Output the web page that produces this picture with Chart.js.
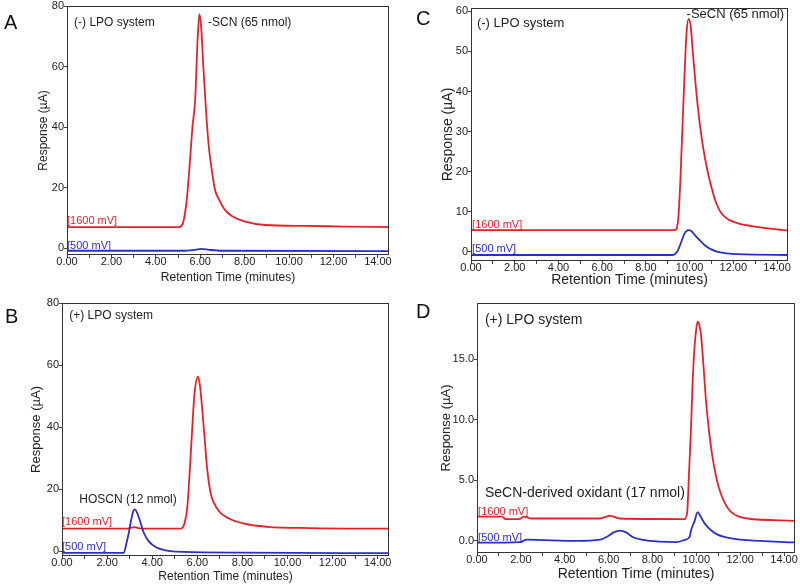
<!DOCTYPE html>
<html>
<head>
<meta charset="utf-8">
<script src="https://cdn.jsdelivr.net/npm/chart.js@4.4.1/dist/chart.umd.min.js"></script>
<style>
  html, body { margin: 0; padding: 0; background: #fff; }
  #wrap { position: relative; width: 800px; height: 585px; overflow: hidden; font-family: "Liberation Sans", Arial, sans-serif; }
  .panel { position: absolute; }
  .panel canvas { display: block; }
  .letter { position: absolute; font-size: 20px; line-height: 1; color: #111; }
</style>
</head>
<body>
<div id="wrap">
  <div class="panel" style="left:0;top:0;width:400px;height:290px"><canvas id="chA" width="400" height="290"></canvas></div>
  <div class="panel" style="left:0;top:290px;width:400px;height:295px"><canvas id="chB" width="400" height="295"></canvas></div>
  <div class="panel" style="left:400px;top:0;width:400px;height:290px"><canvas id="chC" width="400" height="290"></canvas></div>
  <div class="panel" style="left:400px;top:290px;width:400px;height:295px"><canvas id="chD" width="400" height="295"></canvas></div>
  <div class="letter" style="left:4px;top:12px">A</div>
  <div class="letter" style="left:5px;top:306px">B</div>
  <div class="letter" style="left:416px;top:8px">C</div>
  <div class="letter" style="left:416px;top:301px">D</div>
</div>
<script>
'use strict';

// A: (-) LPO, SCN
var redA_t = [0, 3, 5.0, 5.09, 5.24, 5.39, 5.54, 5.65, 5.77, 5.88, 5.96, 6.04, 6.14, 6.25, 6.37, 6.52, 6.67, 6.82, 7.12, 7.42, 8.02, 8.92, 10.72, 12.5, 14.5];
var redA_v = [7.0, 7.0, 7.0, 7.1, 8.8, 15.9, 29.1, 40.1, 48.9, 68.7, 77.3, 73.1, 59.9, 46.7, 34.7, 25.8, 19.2, 16.5, 12.6, 10.7, 8.8, 7.7, 7.4, 7.2, 7.0];
var blueA_t = [0, 5.3, 5.8, 6.05, 6.4, 7.0, 14.5];
var blueA_v = [-0.8, -0.8, -0.4, -0.2, -0.5, -0.8, -0.9];

// B: (+) LPO, SCN
var redB_t = [0, 2.9, 3.2, 3.5, 5.0, 5.26, 5.44, 5.56, 5.67, 5.78, 5.88, 6.03, 6.12, 6.22, 6.34, 6.44, 6.59, 6.74, 6.96, 7.33, 8.07, 9.11, 11, 14.5];
var redB_v = [7.3, 7.3, 7.8, 7.3, 7.3, 7.3, 9.2, 14.5, 26.4, 40.3, 51.1, 56.3, 53.2, 45.7, 35, 26.4, 18.8, 15.6, 12.9, 10.8, 8.9, 7.9, 7.5, 7.3];
var blueB_t = [0, 2.0, 2.74, 2.86, 2.96, 3.07, 3.16, 3.23, 3.33, 3.45, 3.63, 3.85, 4.15, 4.59, 5.40, 8, 14.5];
var blueB_v = [-0.5, -0.5, -0.5, 2.7, 5.9, 10.2, 12.9, 13.5, 12.4, 10, 5.9, 3.2, 1.4, 0.3, -0.2, -0.4, -0.6];

// C: (-) LPO, SeCN
var redC_t = [0, 5, 9.3, 9.39, 9.50, 9.59, 9.69, 9.77, 9.86, 9.95, 10.05, 10.15, 10.31, 10.46, 10.61, 10.81, 10.99, 11.22, 11.45, 11.83, 12.21, 12.97, 14.5];
var redC_v = [5.4, 5.4, 5.4, 5.6, 9.6, 19.6, 33.8, 44.6, 54.6, 58.1, 56.3, 49.6, 39.6, 32.1, 26.3, 20.4, 16.3, 12.1, 9.6, 7.9, 7.1, 6.3, 5.3];
var blueC_t = [0, 5, 9.2, 9.32, 9.47, 9.62, 9.77, 9.95, 10.08, 10.23, 10.46, 10.68, 10.99, 11.29, 12.21, 14.5];
var blueC_v = [-0.8, -0.8, -0.8, -0.6, 0.4, 2.5, 4.6, 5.4, 5.2, 4.2, 2.9, 1.7, 0.6, 0, -0.6, -0.8];

// D: (+) LPO, SeCN
var redD_t = [0, 1.15, 1.3, 1.9, 2.15, 2.5, 5.6, 6.06, 6.5, 9.45, 9.58, 9.68, 9.76, 9.83, 9.91, 9.99, 10.06, 10.14, 10.21, 10.33, 10.44, 10.59, 10.74, 10.94, 11.12, 11.35, 11.58, 11.95, 12.33, 14.5];
var redD_v = [2.0, 2.0, 1.8, 1.8, 2.0, 1.85, 1.85, 2.07, 1.85, 1.8, 2.3, 6.1, 9.4, 13.0, 15.8, 17.4, 18.1, 17.8, 17.1, 14.4, 11.6, 8.9, 6.9, 5.0, 3.9, 2.95, 2.4, 2.0, 1.85, 1.65];
var blueD_t = [0, 1.97, 2.27, 4.55, 5.6, 5.98, 6.21, 6.52, 6.82, 7.12, 7.58, 8.33, 9.09, 9.47, 9.7, 9.76, 9.91, 10.06, 10.17, 10.29, 10.44, 10.67, 10.97, 11.27, 11.73, 12.33, 14.5];
var blueD_v = [-0.15, -0.1, 0.1, 0.0, 0.1, 0.4, 0.68, 0.85, 0.68, 0.3, 0.08, -0.06, -0.1, 0.08, 0.36, 0.88, 1.57, 2.37, 2.1, 1.71, 1.3, 0.88, 0.52, 0.33, 0.17, 0.06, -0.13];

/* ---------- wygląd ---------- */

var RED = '#e62229';
var BLUE = '#2a2fcc';
var INK = '#222';
var FONT = "'Liberation Sans', Arial, sans-serif";

Chart.defaults.font.family = FONT;
Chart.defaults.color = INK;

function toXY(ts, vs) {
  return ts.map(function (t, i) { return { x: t, y: vs[i] }; });
}

// ramka wykresu + napisy w polu wykresu
var ozdobyPlugin = {
  id: 'ozdoby',
  afterDraw: function (chart, args, opts) {
    var ctx = chart.ctx, a = chart.chartArea;
    var xs = chart.scales.x, ys = chart.scales.y;
    ctx.save();
    ctx.strokeStyle = '#333';
    ctx.lineWidth = 1;
    ctx.strokeRect(a.left + 0.5, a.top + 0.5, a.right - a.left - 1, a.bottom - a.top - 1);
    (opts.napisy || []).forEach(function (n) {
      ctx.font = n.size + 'px ' + FONT;
      ctx.fillStyle = n.color || INK;
      ctx.textAlign = 'left';
      ctx.textBaseline = 'middle';
      ctx.fillText(n.text, xs.getPixelForValue(n.x), ys.getPixelForValue(n.y));
    });
    ctx.restore();
  }
};

function rysujPanel(id, p) {
  var siatka = { drawOnChartArea: false, drawTicks: true, tickLength: 3, color: '#444' };
  return new Chart(document.getElementById(id), {
    type: 'line',
    data: {
      datasets: [
        { data: toXY(p.blueT, p.blueV), borderColor: BLUE, borderWidth: 1.8, pointRadius: 0, cubicInterpolationMode: 'monotone', fill: false },
        { data: toXY(p.redT, p.redV), borderColor: RED, borderWidth: 1.8, pointRadius: 0, cubicInterpolationMode: 'monotone', fill: false }
      ]
    },
    options: {
      responsive: false,
      animation: false,
      devicePixelRatio: 1,
      layout: { padding: p.pad },
      plugins: { legend: { display: false }, tooltip: { enabled: false }, ozdoby: { napisy: p.napisy } },
      scales: {
        x: {
          type: 'linear', min: 0, max: 14.5,
          ticks: {
            stepSize: 1, includeBounds: false, autoSkip: false, maxRotation: 0, padding: -3,
            font: { size: 11 }, color: INK,
            callback: function (v) { return v % 2 === 0 ? v.toFixed(2) : ''; }
          },
          grid: siatka,
          border: { display: false },
          title: { display: true, text: 'Retention Time (minutes)', font: { size: p.xTitle }, padding: 0, color: INK },
          afterFit: function (s) { s.height = p.xH; s.paddingLeft = 0; s.paddingRight = 0; }
        },
        y: {
          type: 'linear', min: p.yMin, max: p.yMax,
          ticks: {
            stepSize: p.yStep, includeBounds: false, padding: 0,
            font: { size: 11 }, color: INK,
            callback: function (v) { return p.yDec ? v.toFixed(p.yDec) : String(v); }
          },
          grid: siatka,
          border: { display: false },
          title: { display: true, text: 'Response (µA)', font: { size: p.yTitle }, padding: 0, color: INK },
          afterFit: function (s) { s.width = p.yW; s.paddingTop = 0; s.paddingBottom = 0; }
        }
      }
    },
    plugins: [ozdobyPlugin]
  });
}

rysujPanel('chA', {
  redT: redA_t, redV: redA_v, blueT: blueA_t, blueV: blueA_v,
  pad: { left: 36, top: 6, right: 11, bottom: 5 }, yW: 31, xH: 30,
  yMin: -2.2, yMax: 80, yStep: 20, yDec: 0, xTitle: 12, yTitle: 12,
  napisy: [
    { text: '(-) LPO system', x: 0.32, y: 74.4, size: 12 },
    { text: '-SCN (65 nmol)', x: 6.35, y: 74.4, size: 12 },
    { text: '[1600 mV]', x: 0, y: 9.0, size: 11, color: RED },
    { text: '[500 mV]', x: 0, y: 0.9, size: 11, color: BLUE }
  ]
});

rysujPanel('chB', {
  redT: redB_t, redV: redB_v, blueT: blueB_t, blueV: blueB_v,
  pad: { left: 29, top: 13, right: 11, bottom: 1 }, yW: 33, xH: 28,
  yMin: -1.5, yMax: 80, yStep: 20, yDec: 0, xTitle: 12, yTitle: 13,
  napisy: [
    { text: '(+) LPO system', x: 0.32, y: 75.8, size: 12 },
    { text: 'HOSCN (12 nmol)', x: 0.77, y: 16.5, size: 12 },
    { text: '[1600 mV]', x: 0, y: 9.6, size: 11, color: RED },
    { text: '[500 mV]', x: 0, y: 1.3, size: 11, color: BLUE }
  ]
});

rysujPanel('chC', {
  redT: redC_t, redV: redC_v, blueT: blueC_t, blueV: blueC_v,
  pad: { left: 40, top: 8, right: 12, bottom: 1 }, yW: 31, xH: 28,
  yMin: -2.3, yMax: 60.85, yStep: 10, yDec: 0, xTitle: 14, yTitle: 14,
  napisy: [
    { text: '(-) LPO system', x: 0.27, y: 57.1, size: 13 },
    { text: '-SeCN (65 nmol)', x: 9.86, y: 59.2, size: 13 },
    { text: '[1600 mV]', x: 0.05, y: 6.7, size: 11, color: RED },
    { text: '[500 mV]', x: 0.05, y: 0.6, size: 11, color: BLUE }
  ]
});

rysujPanel('chD', {
  redT: redD_t, redV: redD_v, blueT: blueD_t, blueV: blueD_v,
  pad: { left: 39, top: 13, right: 5, bottom: 2 }, yW: 38, xH: 30,
  yMin: -1.0, yMax: 19.65, yStep: 5, yDec: 1, xTitle: 14, yTitle: 13,
  napisy: [
    { text: '(+) LPO system', x: 0.36, y: 18.24, size: 14 },
    { text: 'SeCN-derived oxidant (17 nmol)', x: 0.36, y: 3.97, size: 14 },
    { text: '[1600 mV]', x: 0.05, y: 2.4, size: 11, color: RED },
    { text: '[500 mV]', x: 0.05, y: 0.28, size: 11, color: BLUE }
  ]
});
</script>
</body>
</html>
